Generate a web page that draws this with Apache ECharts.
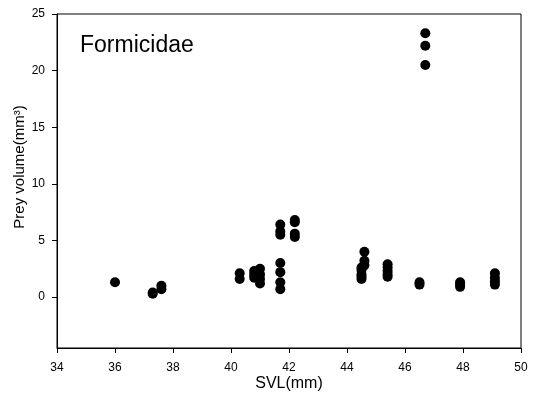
<!DOCTYPE html>
<html>
<head>
<meta charset="utf-8">
<script src="https://cdn.jsdelivr.net/npm/echarts@6/dist/echarts.min.js"></script>
<style>html,body{margin:0;padding:0;background:#fff;}#c{width:535px;height:403px;}</style>
</head>
<body>
<div id="c"></div>
<script>
// SVL (mm) groups and prey volumes (mm^3)
const svl = [36.0, 37.3, 37.6, 40.3, 40.8, 41.0, 41.7, 42.2, 44.5, 44.6, 45.4, 46.5, 46.7, 47.9, 49.1];
const volumes = [
  [1.3],
  [0.3, 0.4],
  [0.7, 1.0],
  [1.6, 2.1],
  [1.7, 2.0, 2.3],
  [1.2, 1.6, 2.0, 2.5],
  [0.7, 1.3, 2.2, 3.0, 5.5, 5.8, 6.4],
  [5.3, 5.6, 6.6, 6.8],
  [1.6, 1.8, 2.0, 2.4, 2.6],
  [2.8, 3.2, 4.0],
  [1.8, 2.0, 2.3, 2.6, 2.9],
  [1.1, 1.3],
  [20.5, 22.2, 23.3],
  [0.9, 1.1, 1.3],
  [1.1, 1.4, 1.7, 2.1]
];
const xTicks = [34, 36, 38, 40, 42, 44, 46, 48, 50];
const yTicks = [0, 5, 10, 15, 20, 25];
const titleText = 'Formicidae';

const points = [];
svl.forEach((x, i) => volumes[i].forEach(v => points.push([x, v])));

const chart = echarts.init(document.getElementById('c'));
const font = 'Liberation Sans, Arial, sans-serif';
chart.setOption({
  animation: false,
  title: {
    text: titleText, left: 75, top: 29,
    textStyle: { fontFamily: font, fontSize: 23, fontWeight: 'normal', color: '#000' }
  },
  grid: { left: 57, right: 14, top: 14, bottom: 55, show: true, borderColor: '#000', borderWidth: 1, outerBoundsMode: 'none' },
  xAxis: {
    type: 'value', min: 34, max: 50, interval: 2,
    name: 'SVL(mm)', nameLocation: 'middle', nameGap: 28, nameMoveOverlap: false,
    nameTextStyle: { fontFamily: font, fontSize: 16, color: '#000' },
    axisLine: { show: true, onZero: false, lineStyle: { color: '#000' } },
    axisTick: { show: true, length: 5, inside: false, lineStyle: { color: '#000' } },
    axisLabel: { fontFamily: font, fontSize: 12, color: '#000', margin: 14, customValues: xTicks },
    splitLine: { show: false }
  },
  yAxis: {
    type: 'value', min: -4.5, max: 25,
    name: 'Prey volume(mm\u00b3)', nameLocation: 'middle', nameGap: 30, nameMoveOverlap: false,
    nameTextStyle: { fontFamily: font, fontSize: 15, color: '#000', padding: [0, 0, 0, 28] },
    axisLine: { show: true, onZero: false, lineStyle: { color: '#000' } },
    axisTick: { show: true, length: 5, inside: false, lineStyle: { color: '#000' }, customValues: yTicks },
    axisLabel: { fontFamily: font, fontSize: 12, color: '#000', margin: 12, customValues: yTicks },
    splitLine: { show: false }
  },
  series: [{
    type: 'scatter',
    data: points,
    symbol: 'circle',
    symbolSize: 10,
    itemStyle: { color: '#000', opacity: 1 }
  }]
});
</script>
</body>
</html>
